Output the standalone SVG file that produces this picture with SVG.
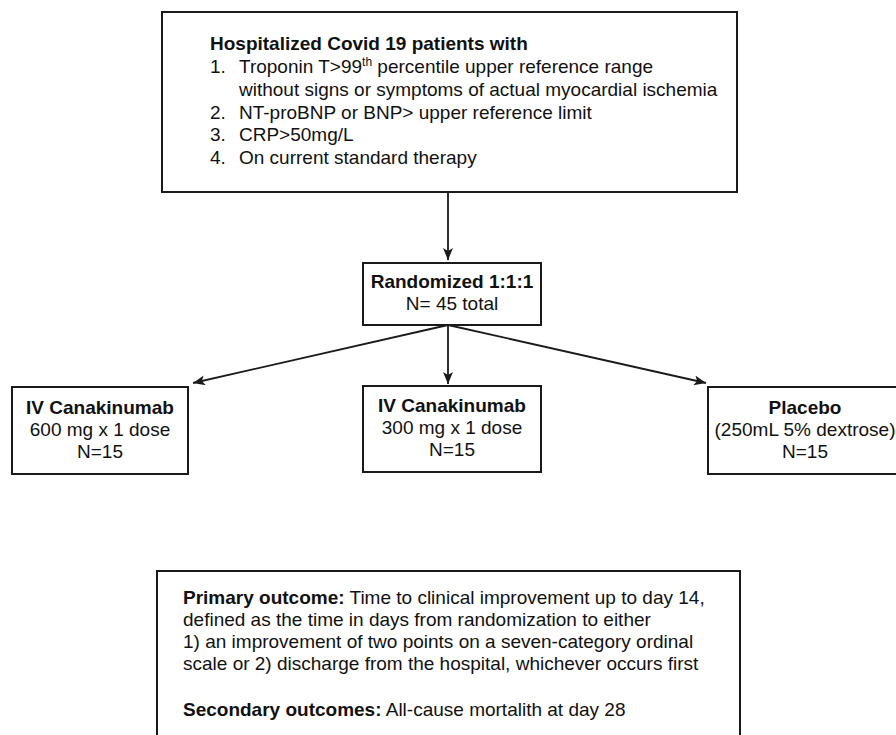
<svg xmlns="http://www.w3.org/2000/svg" width="896" height="735" viewBox="0 0 896 735">
<defs>
<style>
.box{fill:#fff;stroke:#1a1a1a;stroke-width:2}
.t{font-family:"Liberation Sans",Arial,sans-serif;font-size:19px;fill:#111}
.b{font-weight:bold}
.c{text-anchor:middle}
.ln{stroke:#1a1a1a;stroke-width:1.8;fill:none}
</style>
<marker id="ah" viewBox="0 0 12 10" refX="12" refY="5" markerWidth="12" markerHeight="10" markerUnits="userSpaceOnUse" orient="auto">
<path d="M0,0 L12,5 L0,10 L3,5 Z" fill="#1a1a1a"/>
</marker>
</defs>
<rect width="896" height="735" fill="#fff"/>
<g id="connectors">
<line class="ln" x1="448" y1="192" x2="448" y2="260" marker-end="url(#ah)"/>
<line class="ln" x1="448" y1="325" x2="193" y2="383" marker-end="url(#ah)"/>
<line class="ln" x1="448" y1="325" x2="448" y2="384" marker-end="url(#ah)"/>
<line class="ln" x1="448" y1="325" x2="706" y2="383" marker-end="url(#ah)"/>
</g>
<g id="inclusion">
<rect class="box" x="162" y="12" width="575" height="180"/>
<text class="t b" x="210" y="50">Hospitalized Covid 19 patients with</text>
<text class="t" x="210" y="73">1.</text>
<text class="t" x="239" y="73">Troponin T&gt;99<tspan font-size="12" dy="-7">th</tspan><tspan dy="7"> percentile upper reference range</tspan></text>
<text class="t" x="239" y="96">without signs or symptoms of actual myocardial ischemia</text>
<text class="t" x="210" y="119">2.</text>
<text class="t" x="239" y="119">NT-proBNP or BNP&gt; upper reference limit</text>
<text class="t" x="210" y="141">3.</text>
<text class="t" x="239" y="141">CRP&gt;50mg/L</text>
<text class="t" x="210" y="164">4.</text>
<text class="t" x="239" y="164">On current standard therapy</text>
</g>
<g id="randomized">
<rect class="box" x="363" y="263" width="178" height="62"/>
<text class="t b c" x="452" y="288">Randomized 1:1:1</text>
<text class="t c" x="452" y="310">N= 45 total</text>
</g>
<g id="arm600">
<rect class="box" x="12" y="387" width="176" height="87"/>
<text class="t b c" x="100" y="414">IV Canakinumab</text>
<text class="t c" x="100" y="436">600 mg x 1 dose</text>
<text class="t c" x="100" y="458">N=15</text>
</g>
<g id="arm300">
<rect class="box" x="363" y="386" width="178" height="86"/>
<text class="t b c" x="452" y="412">IV Canakinumab</text>
<text class="t c" x="452" y="434">300 mg x 1 dose</text>
<text class="t c" x="452" y="456">N=15</text>
</g>
<g id="placebo">
<rect class="box" x="708" y="387" width="200" height="87"/>
<text class="t b c" x="805" y="414">Placebo</text>
<text class="t c" x="805" y="436">(250mL 5% dextrose)</text>
<text class="t c" x="805" y="458">N=15</text>
</g>
<g id="outcomes">
<rect class="box" x="157" y="571" width="583" height="180"/>
<text class="t" x="183" y="604"><tspan font-weight="bold">Primary outcome:</tspan> Time to clinical improvement up to day 14,</text>
<text class="t" x="183" y="626">defined as the time in days from randomization to either</text>
<text class="t" x="183" y="648">1) an improvement of two points on a seven-category ordinal</text>
<text class="t" x="183" y="670">scale or 2) discharge from the hospital, whichever occurs first</text>
<text class="t" x="183" y="716"><tspan font-weight="bold">Secondary outcomes:</tspan> All-cause mortalith at day 28</text>
</g>
</svg>
